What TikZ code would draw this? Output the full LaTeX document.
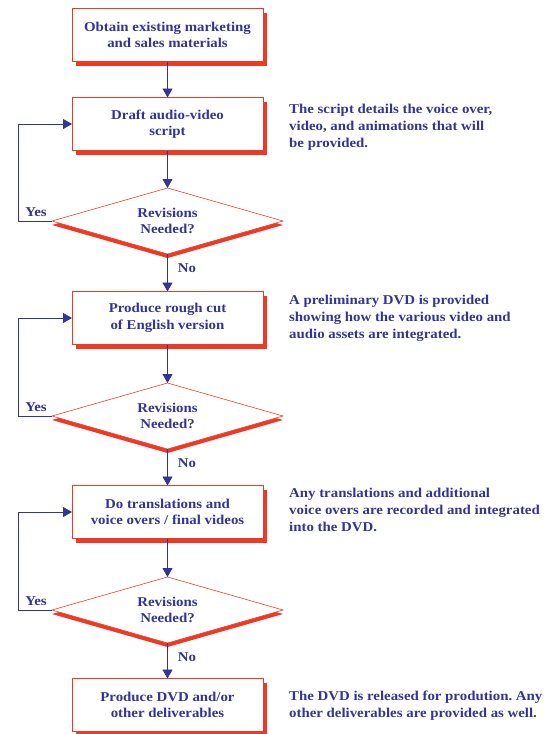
\documentclass[tikz,border=0pt]{standalone}
\usepackage{fontspec}
\setmainfont{Liberation Serif}[FakeStretch=1.1]
\usetikzlibrary{shapes.geometric,arrows.meta,shadows}
\definecolor{navy}{RGB}{52,52,150}
\definecolor{fred}{RGB}{238,58,36}
\frenchspacing
\begin{document}
\begin{tikzpicture}[x=1pt,y=-1pt,
  every node/.style={text=navy,font=\bfseries\fontsize{13.5}{16.5}\selectfont},
  stepbox/.style={draw=fred,line width=0.8pt,fill=white,minimum width=191pt,minimum height=53pt,
    inner sep=0pt,outer sep=0pt,align=center,
    drop shadow={shadow xshift=4pt,shadow yshift=-4pt,fill=fred,opacity=1}},
  decide/.style={diamond,aspect=3.5,draw=fred,line width=0.6pt,fill=white,minimum width=231pt,minimum height=66pt,
    inner sep=0pt,outer sep=0pt,align=center,
    drop shadow={shadow xshift=0pt,shadow yshift=-4pt,fill=fred,opacity=1}},
  note/.style={anchor=north west,align=left,inner sep=0pt,font=\bfseries\fontsize{13.5}{17}\selectfont},
  lbl/.style={inner sep=0pt},
  flow/.style={draw=navy,line width=0.8pt,-{Triangle[length=9pt,width=10pt]}}]
\useasboundingbox (0,0) rectangle (557,734);

\node[stepbox] (b1) at (167.5,35) {Obtain existing marketing\\and sales materials};
\node[stepbox] (b2) at (167.5,124) {Draft audio-video\\script};
\node[decide] (d1) at (167.5,221) {Revisions\\Needed?};
\node[stepbox] (b3) at (167.5,318) {Produce rough cut\\of English version};
\node[decide] (d2) at (167.5,416) {Revisions\\Needed?};
\node[stepbox] (b4) at (167.5,512) {Do translations and\\voice overs / final videos};
\node[decide] (d3) at (167.5,610) {Revisions\\Needed?};
\node[stepbox] (b5) at (167.5,705) {Produce DVD and/or\\other deliverables};

\node[note] (n1) at (289,104) {The script details the voice over,\\video, and animations that will\\be provided.};
\node[note] (n2) at (289,295) {A preliminary DVD is provided\\showing how the various video and\\audio assets are integrated.};
\node[note] (n3) at (289,488) {Any translations and additional\\voice overs are recorded and integrated\\into the DVD.};
\node[note] (n4) at (289,691) {The DVD is released for prodution. Any\\other deliverables are provided as well.};

\coordinate (c1) at (18,221);
\coordinate (c2) at (18,416);
\coordinate (c3) at (18,610);

\draw[flow] (b1) -- (b2);
\draw[flow] (b2) -- (d1);
\draw[flow] (d1) -- (b3);
\draw[flow] (b3) -- (d2);
\draw[flow] (d2) -- (b4);
\draw[flow] (b4) -- (d3);
\draw[flow] (d3) -- (b5);

\draw[flow] (d1.west) -- (c1) |- (b2.west);
\draw[flow] (d2.west) -- (c2) |- (b3.west);
\draw[flow] (d3.west) -- (c3) |- (b4.west);

\node[lbl] (y1) at (36,212) {Yes};
\node[lbl] (y2) at (36,407) {Yes};
\node[lbl] (y3) at (36,601) {Yes};
\node[lbl] (no1) at (187,268) {No};
\node[lbl] (no2) at (187,463) {No};
\node[lbl] (no3) at (187,657) {No};
\end{tikzpicture}
\end{document}
